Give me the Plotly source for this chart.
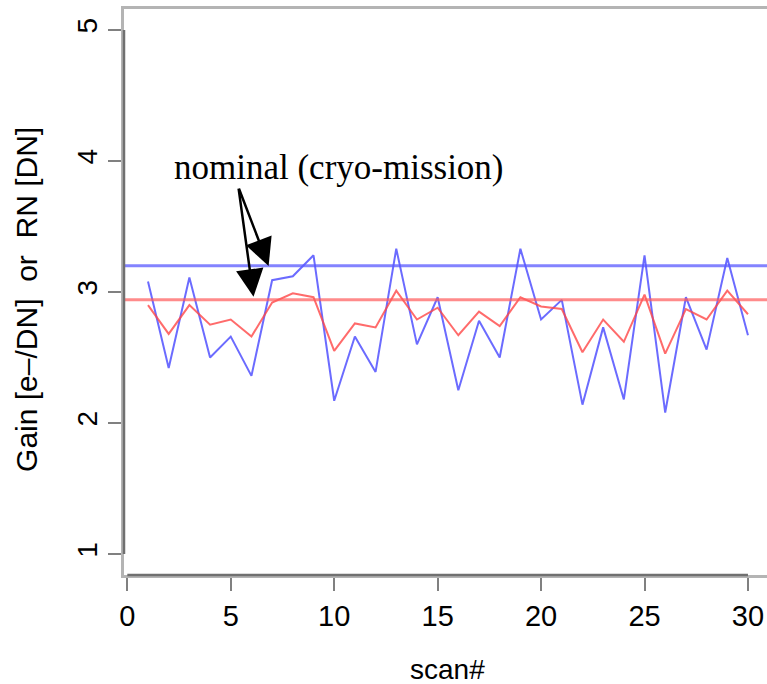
import plotly.graph_objects as go

scan = list(range(1, 31))
gain = [3.08, 2.42, 3.11, 2.50, 2.66, 2.36, 3.09, 3.12, 3.28, 2.17,
        2.66, 2.39, 3.33, 2.60, 2.96, 2.25, 2.78, 2.50, 3.33, 2.79,
        2.94, 2.14, 2.73, 2.18, 3.28, 2.08, 2.96, 2.56, 3.26, 2.67]
rn = [2.90, 2.68, 2.90, 2.75, 2.79, 2.66, 2.92, 2.99, 2.96, 2.55,
      2.76, 2.73, 3.01, 2.79, 2.88, 2.67, 2.85, 2.74, 2.96, 2.89,
      2.87, 2.54, 2.79, 2.62, 2.98, 2.53, 2.87, 2.79, 3.01, 2.83]
gain_nominal = 3.2
rn_nominal = 2.94
x_ticks = [0, 5, 10, 15, 20, 25, 30]
y_ticks = [1, 2, 3, 4, 5]
annot_text = "nominal (cryo-mission)"
annot_pos = (10.25, 3.95)
arrow_tail = (5.37, 3.80)
arrow_tips = [(6.83, 3.198), (6.10, 2.964)]

BLUE = "rgba(70,70,255,0.8)"
RED = "rgba(255,70,70,0.8)"
SANS = "Liberation Sans, Arial, sans-serif"
SERIF = "Liberation Serif, Times New Roman, serif"

fig = go.Figure()
fig.add_trace(go.Scatter(x=scan, y=gain, mode="lines",
                         line=dict(color=BLUE, width=2), showlegend=False))
fig.add_trace(go.Scatter(x=scan, y=rn, mode="lines",
                         line=dict(color=RED, width=2), showlegend=False))

fig.add_hline(y=gain_nominal, line=dict(color="rgba(90,90,255,0.75)", width=3), layer="above")
fig.add_hline(y=rn_nominal, line=dict(color="rgba(255,90,90,0.7)", width=3), layer="above")

# darker axis segments (between first and last ticks)
fig.add_shape(type="line", xref="x", yref="paper", x0=x_ticks[0], x1=x_ticks[-1], y0=0, y1=0,
              line=dict(color="#707070", width=2.5), layer="above")
fig.add_shape(type="line", xref="paper", yref="y", x0=0, x1=0, y0=y_ticks[0], y1=y_ticks[-1],
              line=dict(color="#707070", width=2.5), layer="above")

fig.add_annotation(x=annot_pos[0], y=annot_pos[1], text=annot_text, showarrow=False,
                   font=dict(family=SERIF, size=35, color="black"),
                   xanchor="center", yanchor="middle")
for tx, ty in arrow_tips:
    fig.add_annotation(x=tx, y=ty, ax=arrow_tail[0], ay=arrow_tail[1],
                       axref="x", ayref="y", text="", showarrow=True,
                       arrowhead=2, arrowwidth=2.5, arrowsize=2.2, arrowcolor="black")

fig.add_annotation(text="Gain [e–/DN]\u00a0\u00a0or\u00a0\u00a0RN [DN]", textangle=-90,
                   xref="paper", yref="paper", x=0, y=0.486, xshift=-97,
                   showarrow=False, font=dict(family=SANS, size=30, color="black"),
                   xanchor="center", yanchor="middle")
fig.add_annotation(text="scan#", xref="x", yref="paper", x=15.5, y=0, yshift=-94,
                   showarrow=False, font=dict(family=SANS, size=28, color="black"),
                   xanchor="center", yanchor="middle")

fig.update_layout(
    width=767, height=684,
    margin=dict(l=124, r=0, t=9, b=109),
    paper_bgcolor="white", plot_bgcolor="white",
    font=dict(family=SANS, size=27, color="black"),
)
fig.update_xaxes(range=[-0.16, 30.92], tickvals=x_ticks, showgrid=False, zeroline=False,
                 showline=True, linecolor="#b4b4b4", linewidth=2.5, mirror=True,
                 ticks="outside", ticklen=13, tickwidth=2, tickcolor="#808080",
                 tickfont=dict(family=SANS, size=29, color="black"))
fig.update_yaxes(range=[0.84, 5.16], tickvals=y_ticks, showgrid=False, zeroline=False,
                 showline=True, linecolor="#b4b4b4", linewidth=2.5, mirror=False,
                 ticks="outside", ticklen=13, tickwidth=2, tickcolor="#808080",
                 tickangle=-90,
                 tickfont=dict(family=SANS, size=28, color="black"))

fig.write_html("out.html")
